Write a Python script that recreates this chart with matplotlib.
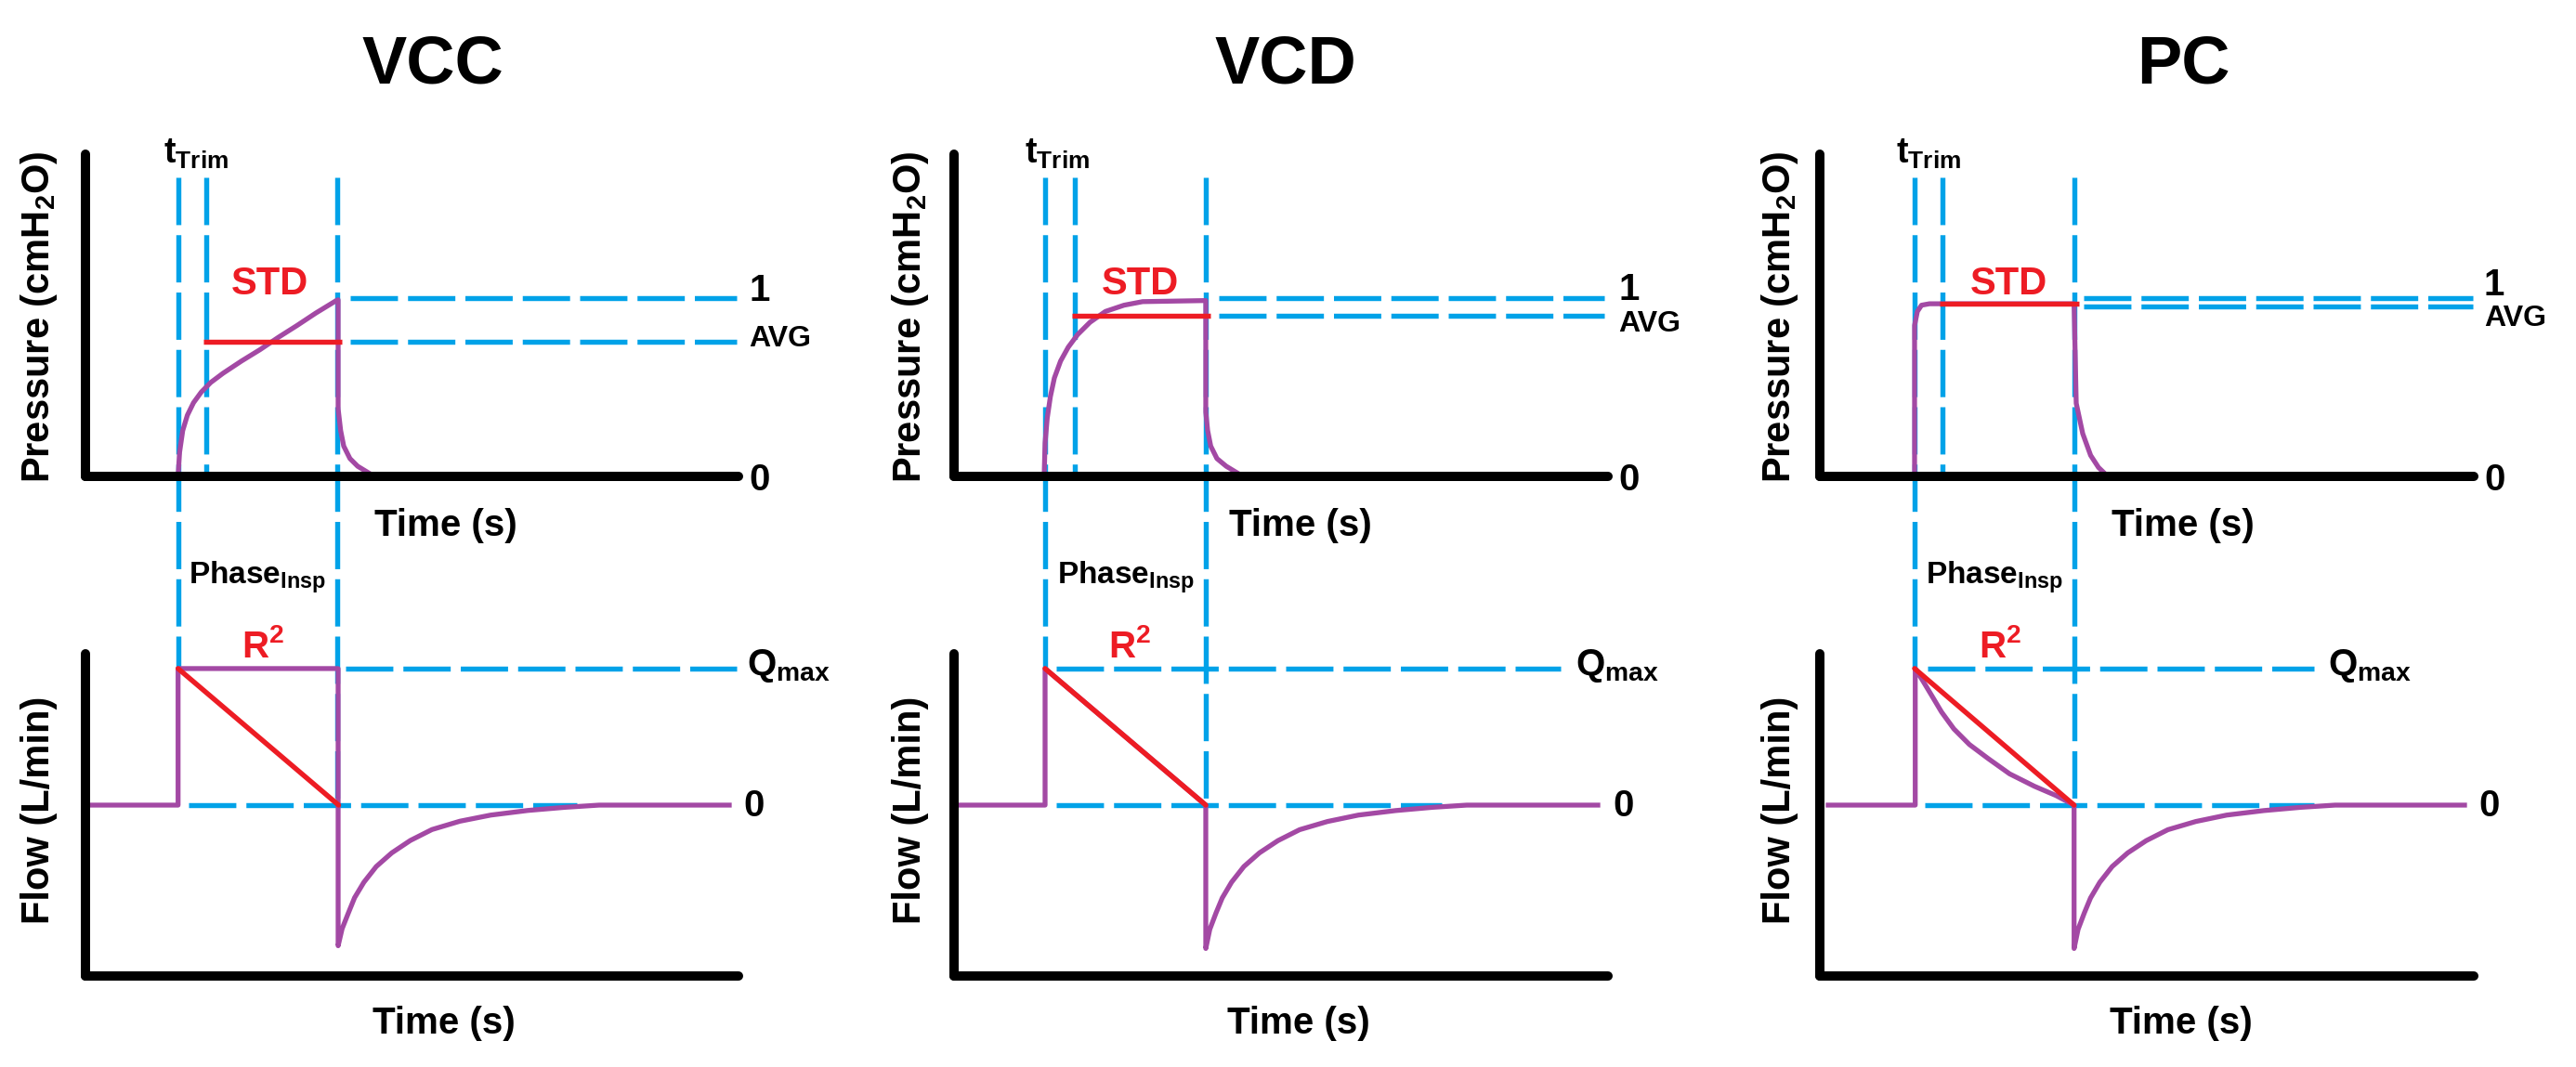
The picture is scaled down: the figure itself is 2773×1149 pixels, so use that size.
import matplotlib
matplotlib.use("Agg")
import matplotlib.pyplot as plt

# figure size in pixels (dpi 100)
W, H = 2773, 1149

plt.rcParams['font.family'] = ['Liberation Sans', 'DejaVu Sans']
plt.rcParams['font.weight'] = 'bold'
plt.rcParams['mathtext.fontset'] = 'custom'
plt.rcParams['mathtext.rm'] = 'Liberation Sans:bold'
plt.rcParams['mathtext.it'] = 'Liberation Sans:bold'
plt.rcParams['mathtext.bf'] = 'Liberation Sans:bold'
plt.rcParams['mathtext.default'] = 'rm'

# --- data (time in arbitrary units, pressure / flow normalised) ---
modes = ['VCC', 'VCD', 'PC']
t_start = [1.002, 0.98, 1.02]
t_trim = [1.302, 1.297, 1.32]
t_end = [2.712, 2.707, 2.737]
p_avg = [0.753, 0.902, 0.955]
p_std = [0.753, 0.902, 0.966]
p_one = 1.0
q_max = 1.0

vcc_p_t = [1.002, 1.018, 1.052, 1.102, 1.168, 1.252, 1.352, 1.485, 1.685, 1.885, 2.085, 2.285,
           2.485, 2.702, 2.725, 2.725, 2.752, 2.785, 2.852, 2.935, 3.052]
vcc_p = [0.0, 0.135, 0.257, 0.343, 0.413, 0.473, 0.526, 0.578, 0.647, 0.711, 0.781, 0.847,
         0.916, 0.985, 0.99, 0.378, 0.257, 0.17, 0.10, 0.057, 0.02]
vcd_p_t = [0.97, 0.98, 1.003, 1.037, 1.08, 1.147, 1.23, 1.33, 1.463, 1.63, 1.83, 2.03, 2.71,
           2.71, 2.73, 2.763, 2.83, 2.93, 3.047]
vcd_p = [0.0, 0.187, 0.326, 0.447, 0.552, 0.647, 0.725, 0.795, 0.864, 0.925, 0.96, 0.98, 0.986,
         0.36, 0.257, 0.17, 0.10, 0.057, 0.02]
pc_p_t = [1.02, 1.02, 1.05, 1.095, 1.18, 2.737, 2.76, 2.83, 2.915, 3.0, 3.06]
pc_p = [0.0, 0.847, 0.925, 0.96, 0.968, 0.968, 0.41, 0.24, 0.118, 0.05, 0.02]

vcc_f_t = [0.075, 1.002, 1.002, 2.725, 2.725, 2.768, 2.835, 2.902, 3.002, 3.135, 3.302, 3.502,
           3.735, 4.035, 4.368, 4.768, 5.168, 5.535, 6.935]
vcc_f = [0.0, 0.0, 1.0, 1.0, -1.03, -0.905, -0.79, -0.678, -0.565, -0.45, -0.35, -0.259,
         -0.179, -0.118, -0.073, -0.039, -0.016, 0.0, 0.0]
vcd_f_t = [0.07, 0.98, 0.98, 2.71, 2.71, 2.753, 2.82, 2.887, 2.987, 3.12, 3.287, 3.487, 3.72,
           4.02, 4.353, 4.753, 5.153, 5.52, 6.93]
vcd_f = [0.0, 0.0, 1.0, 0.0, -1.05, -0.91, -0.79, -0.68, -0.565, -0.45, -0.35, -0.26, -0.18,
         -0.12, -0.073, -0.04, -0.016, 0.0, 0.0]
pc_f_t = [0.09, 1.027, 1.027, 1.11, 1.21, 1.31, 1.443, 1.61, 1.81, 2.043, 2.31, 2.543, 2.737,
          2.737, 2.78, 2.847, 2.914, 3.014, 3.147, 3.314, 3.514, 3.747, 4.047, 4.38, 4.78,
          5.18, 5.547, 6.94]
pc_f = [0.0, 0.0, 1.0, 0.909, 0.796, 0.682, 0.558, 0.444, 0.342, 0.229, 0.138, 0.07, 0.0,
        -1.05, -0.91, -0.79, -0.68, -0.565, -0.45, -0.35, -0.26, -0.18, -0.12, -0.073, -0.04,
        -0.016, 0.0, 0.0]

press_t = [vcc_p_t, vcd_p_t, pc_p_t]
press = [vcc_p, vcd_p, pc_p]
flow_t = [vcc_f_t, vcd_f_t, pc_f_t]
flow = [vcc_f, vcd_f, pc_f]

# red R^2 line ends (start is t_start at Qmax)
r2_to = [2.73, 2.71, 2.737]

# extents of the reference dashed lines
p_dash_from = [2.855, 2.85, 2.84]
p_dash_to = [7.015, 7.0, 7.03]
q_dash_from = [2.81, 1.10, 1.16]
q_dash_to = [7.015, 6.53, 5.32]
z_dash_from = [1.115, 1.10, 1.127]
z_dash_to = [5.30, 5.25, 5.32]
v_top = 1.675

# colours (paint palette)
BLUE = '#00A2E8'
PURPLE = '#A349A4'
RED = '#ED1C24'

col_x0 = [91.5, 1027, 1959]  # pixel x of each y axis
dash = dict(color=BLUE, lw=3.9, dashes=(9.4, 2.0), solid_capstyle='butt',
            dash_capstyle='butt', clip_on=False, zorder=2)

fig = plt.figure(figsize=(W / 100, H / 100), dpi=100)


def put(c, rel, y, s, **kw):
    fig.text((col_x0[c] + rel) / W, 1 - y / H, s, **kw)


def style(ax):
    for side in ['top', 'right']:
        ax.spines[side].set_visible(False)
    for side in ['left', 'bottom']:
        ax.spines[side].set_linewidth(7.2)
        ax.spines[side].set_capstyle('round')
        ax.spines[side].set_zorder(6)
    ax.set_xticks([])
    ax.set_yticks([])
    ax.patch.set_alpha(0)


for c in range(3):
    x0 = col_x0[c] / W
    ax_p = fig.add_axes([x0, 1 - 513 / H, 703.5 / W, 347 / H])
    ax_f = fig.add_axes([x0, 1 - 1050.5 / H, 703.5 / W, 346 / H])
    for ax in (ax_p, ax_f):
        ax.set_xlim(0, 7.035)
        style(ax)
    ax_p.set_ylim(0, 1.807)
    ax_f.set_ylim(-1.248, 1.105)

    # flow levels expressed in pressure-axis units, for the long vertical lines
    def p_of_q(q):
        ypix = ax_f.transData.transform((0, q))[1]
        return ax_p.transData.inverted().transform((0, ypix))[1]

    # vertical dashed markers
    ax_p.plot([t_start[c], t_start[c]], [v_top, p_of_q(q_max)], **dash)
    ax_p.plot([t_trim[c], t_trim[c]], [v_top, 0], **dash)
    ax_p.plot([t_end[c], t_end[c]], [v_top, p_of_q(0)], **dash)

    # horizontal dashed references
    ax_p.plot([p_dash_from[c], p_dash_to[c]], [p_one, p_one], **dash)
    ax_p.plot([p_dash_from[c], p_dash_to[c]], [p_avg[c], p_avg[c]], **dash)
    ax_f.plot([q_dash_from[c], q_dash_to[c]], [q_max, q_max], **dash)
    ax_f.plot([z_dash_from[c], z_dash_to[c]], [0, 0], **dash)

    # curves
    ax_p.plot(press_t[c], press[c], color=PURPLE, lw=3.8, zorder=3,
              solid_joinstyle='round', clip_on=False)
    ax_f.plot(flow_t[c], flow[c], color=PURPLE, lw=3.8, zorder=3,
              solid_joinstyle='round', clip_on=False)

    # STD and R^2 markers
    ax_p.plot([t_trim[c] - 0.03, t_end[c] + 0.05], [p_std[c], p_std[c]], color=RED, lw=3.9,
              zorder=4, solid_capstyle='butt', clip_on=False)
    ax_f.plot([t_start[c], r2_to[c]], [q_max, 0], color=RED, lw=3.9, zorder=4,
              solid_capstyle='round', clip_on=False)

# --- texts ---
title_x = [374.5, 357, 391]
trim_x = [119.5, 111.5, 117]
std_x = [199, 200, 203]
one_y = [324, 323, 318]
avg_y = [373, 357, 351]
time_x = [388, 373, 391]
ylab_x = [-49, -47, -43]
phase_x = [185.5, 185, 188]
r2_x = [192, 189, 194]
qmax_x = [713, 669, 547]

for c in range(3):
    put(c, title_x[c], 89, modes[c], ha='center', va='baseline', fontsize=52)
    put(c, trim_x[c], 176, r'$\mathregular{t}_{\mathregular{Trim}}$', ha='center',
        va='baseline', fontsize=27)
    put(c, std_x[c], 317, 'STD', ha='center', va='baseline', fontsize=30, color=RED)
    put(c, 715, one_y[c], '1', ha='left', va='baseline', fontsize=29)
    put(c, 715, avg_y[c], 'AVG', ha='left', va='baseline', fontsize=23)
    put(c, 715, 528, '0', ha='left', va='baseline', fontsize=29)
    put(c, time_x[c], 577, 'Time (s)', ha='center', va='baseline', fontsize=29)
    put(c, ylab_x[c], 341, r'Pressure (cmH$_2$O)', ha='center', va='center',
        rotation=90, fontsize=30)
    put(c, phase_x[c], 629, r'Phase$_{\mathregular{Insp}}$', ha='center', va='baseline',
        fontsize=24)
    put(c, r2_x[c], 708, r'R$^{2}$', ha='center', va='baseline', fontsize=29, color=RED)
    put(c, qmax_x[c], 727, r'Q$_{\mathregular{max}}$', ha='left', va='baseline', fontsize=29)
    put(c, 709, 879, '0', ha='left', va='baseline', fontsize=29)
    put(c, time_x[c] - 2, 1113, 'Time (s)', ha='center', va='baseline', fontsize=29)
    put(c, ylab_x[c], 872, 'Flow (L/min)', ha='center', va='center', rotation=90,
        fontsize=30)

fig.savefig('out.png', dpi=100, facecolor='white')
